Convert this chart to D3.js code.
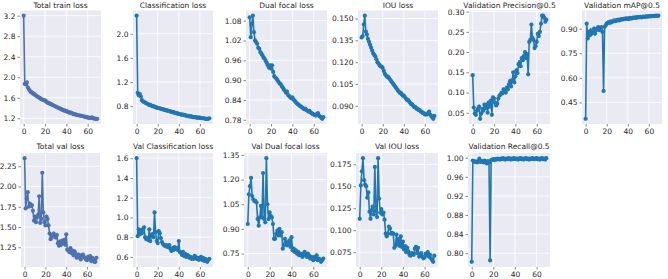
<!DOCTYPE html>
<html lang="en">
<head>
<meta charset="utf-8">
<title>Training curves</title>
<script src="https://d3js.org/d3.v7.min.js"></script>
<style>
  body { margin: 0; background: #fff; }
  .title { font-family: "DejaVu Sans", sans-serif; font-size: 7.5px; fill: #262626; }
  .tick text { font-family: "DejaVu Sans", sans-serif; font-size: 7.5px; fill: #262626; }
</style>
</head>
<body>
<div id="vis"></div>
<script>
const width = 668, height = 279;

const epochs = d3.range(70);

const trainTotal = [3.20,1.87,1.86,1.90,1.80,1.76,1.73,1.71,1.70,1.68,1.67,1.65,1.64,1.62,1.61,1.60,1.58,1.57,1.56,1.55,1.55,1.53,1.51,1.50,1.49,1.48,1.47,1.46,1.45,1.44,1.43,1.42,1.41,1.40,1.39,1.38,1.37,1.36,1.35,1.35,1.34,1.33,1.32,1.31,1.31,1.30,1.29,1.28,1.28,1.27,1.27,1.26,1.26,1.25,1.25,1.24,1.24,1.23,1.23,1.22,1.22,1.21,1.21,1.21,1.22,1.20,1.20,1.19,1.19,1.19];
const trainCls = [2.30,1.02,0.98,1.00,0.96,0.90,0.88,0.87,0.86,0.85,0.84,0.83,0.82,0.82,0.81,0.80,0.80,0.79,0.78,0.78,0.77,0.77,0.76,0.76,0.75,0.75,0.74,0.74,0.73,0.73,0.72,0.72,0.71,0.71,0.70,0.70,0.69,0.69,0.68,0.68,0.67,0.67,0.66,0.66,0.66,0.65,0.65,0.64,0.64,0.64,0.63,0.63,0.63,0.62,0.62,0.62,0.62,0.61,0.61,0.61,0.61,0.60,0.60,0.60,0.60,0.59,0.59,0.59,0.59,0.60];
const trainDfl = [1.090,1.030,1.070,1.095,1.045,1.020,1.015,1.010,0.998,0.995,0.985,0.980,0.975,0.968,0.965,0.958,0.952,0.945,0.938,0.945,0.935,0.945,0.925,0.912,0.908,0.905,0.900,0.895,0.890,0.888,0.882,0.878,0.872,0.868,0.862,0.865,0.855,0.852,0.848,0.845,0.848,0.842,0.838,0.835,0.830,0.828,0.825,0.822,0.820,0.818,0.815,0.812,0.814,0.810,0.808,0.805,0.807,0.803,0.800,0.798,0.796,0.795,0.793,0.797,0.800,0.792,0.790,0.786,0.783,0.788];
const trainIou = [0.137,0.138,0.146,0.152,0.141,0.139,0.136,0.134,0.132,0.130,0.128,0.126,0.125,0.124,0.122,0.120,0.119,0.118,0.117,0.117,0.116,0.114,0.112,0.111,0.110,0.110,0.109,0.108,0.107,0.106,0.105,0.104,0.103,0.102,0.101,0.100,0.099,0.099,0.098,0.097,0.097,0.096,0.095,0.094,0.094,0.093,0.092,0.091,0.091,0.090,0.089,0.089,0.088,0.088,0.087,0.087,0.086,0.086,0.085,0.085,0.084,0.084,0.084,0.085,0.086,0.084,0.083,0.082,0.081,0.083];
const valPrecision = [0.143,0.063,0.048,0.045,0.055,0.060,0.065,0.035,0.048,0.060,0.055,0.070,0.062,0.070,0.050,0.075,0.065,0.080,0.045,0.088,0.085,0.075,0.068,0.072,0.085,0.092,0.095,0.100,0.098,0.108,0.105,0.100,0.112,0.108,0.120,0.128,0.115,0.130,0.150,0.125,0.140,0.155,0.148,0.170,0.175,0.165,0.185,0.180,0.190,0.200,0.185,0.195,0.145,0.225,0.230,0.268,0.235,0.230,0.210,0.215,0.225,0.245,0.240,0.250,0.270,0.290,0.290,0.285,0.275,0.280];
const valMap = [0.350,0.930,0.840,0.880,0.860,0.890,0.870,0.880,0.900,0.870,0.890,0.900,0.910,0.890,0.900,0.910,0.880,0.520,0.910,0.920,0.930,0.935,0.940,0.935,0.945,0.940,0.945,0.950,0.945,0.950,0.950,0.955,0.950,0.955,0.958,0.955,0.960,0.958,0.962,0.960,0.962,0.958,0.965,0.963,0.962,0.967,0.965,0.968,0.966,0.970,0.968,0.970,0.972,0.968,0.972,0.973,0.971,0.974,0.975,0.973,0.975,0.976,0.974,0.977,0.978,0.976,0.978,0.979,0.977,0.979];
const valTotal = [2.35,1.73,1.85,1.93,1.75,1.79,1.76,1.77,1.70,1.58,1.63,1.56,1.62,1.65,1.88,1.55,1.60,2.17,1.68,1.56,1.52,1.63,1.60,1.52,1.42,1.35,1.40,1.38,1.42,1.38,1.37,1.40,1.30,1.27,1.32,1.28,1.33,1.30,1.34,1.28,1.41,1.22,1.21,1.19,1.24,1.18,1.21,1.15,1.20,1.17,1.12,1.14,1.16,1.12,1.10,1.15,1.16,1.13,1.12,1.10,1.09,1.13,1.11,1.14,1.08,1.12,1.10,1.07,1.07,1.12];
const valCls = [1.60,0.81,0.88,0.83,0.87,0.84,0.88,0.90,0.80,0.78,0.79,0.77,0.88,0.76,0.82,0.83,0.80,1.05,0.85,0.76,0.74,0.86,0.84,0.79,0.75,0.73,0.72,0.71,0.72,0.70,0.70,0.72,0.68,0.66,0.69,0.67,0.70,0.68,0.69,0.67,0.76,0.65,0.64,0.62,0.65,0.61,0.63,0.60,0.62,0.61,0.59,0.60,0.58,0.59,0.58,0.61,0.60,0.58,0.59,0.57,0.58,0.60,0.57,0.59,0.56,0.58,0.56,0.55,0.57,0.58];
const valDfl = [0.93,1.11,1.16,1.21,1.10,1.08,1.07,1.07,1.06,0.96,0.92,0.97,1.04,0.97,1.24,0.96,0.94,1.33,1.05,0.96,1.00,0.98,0.97,0.93,0.84,0.84,0.87,0.89,0.86,0.90,0.86,0.88,0.78,0.80,0.84,0.82,0.80,0.81,0.83,0.79,0.85,0.77,0.78,0.76,0.77,0.75,0.76,0.74,0.75,0.74,0.73,0.75,0.76,0.74,0.73,0.75,0.74,0.72,0.73,0.72,0.71,0.73,0.72,0.74,0.71,0.72,0.71,0.70,0.71,0.72];
const valIou = [0.113,0.151,0.167,0.182,0.157,0.152,0.150,0.137,0.143,0.121,0.113,0.123,0.127,0.118,0.172,0.122,0.115,0.182,0.136,0.120,0.124,0.118,0.120,0.112,0.096,0.093,0.096,0.104,0.102,0.096,0.097,0.096,0.080,0.082,0.095,0.084,0.090,0.082,0.093,0.081,0.087,0.078,0.082,0.075,0.080,0.076,0.072,0.071,0.074,0.073,0.072,0.079,0.081,0.074,0.080,0.070,0.072,0.074,0.070,0.068,0.069,0.073,0.072,0.075,0.070,0.072,0.068,0.066,0.064,0.071];
const valRecall = [0.782,0.994,0.993,0.991,0.992,0.990,0.993,0.998,0.991,0.993,0.992,0.990,0.994,0.991,0.988,0.993,0.990,0.785,0.995,0.996,0.997,0.995,0.997,0.996,0.998,0.997,0.996,0.998,0.997,0.999,0.997,0.996,0.998,0.997,0.999,0.998,0.996,0.998,0.997,0.999,0.998,0.997,0.998,0.996,0.998,0.999,0.997,0.998,0.996,0.998,0.999,0.997,0.998,0.996,0.998,0.997,0.999,0.998,0.997,0.998,0.999,0.997,0.998,0.996,0.998,0.999,0.997,0.998,0.996,0.999];

const titles = ["Total train loss", "Classification loss", "Dual focal loss", "IOU loss",
                "Validation Precision@0.5", "Validation mAP@0.5",
                "Total val loss", "Val Classification loss", "Val Dual focal loss", "Val IOU loss",
                "Validation Recall@0.5"];
const series = [trainTotal, trainCls, trainDfl, trainIou, valPrecision, valMap,
                valTotal, valCls, valDfl, valIou, valRecall];
const xTicks = [0, 20, 40, 60];
const yTicks = [
  [1.2, 1.6, 2.0, 2.4, 2.8, 3.2],
  [0.8, 1.2, 1.6, 2.0],
  [0.78, 0.84, 0.90, 0.96, 1.02, 1.08],
  [0.090, 0.105, 0.120, 0.135, 0.150],
  [0.05, 0.10, 0.15, 0.20, 0.25, 0.30],
  [0.45, 0.60, 0.75, 0.90],
  [1.25, 1.50, 1.75, 2.00, 2.25],
  [0.6, 0.8, 1.0, 1.2, 1.4, 1.6],
  [0.75, 0.90, 1.05, 1.20, 1.35],
  [0.075, 0.100, 0.125, 0.150, 0.175],
  [0.80, 0.84, 0.88, 0.92, 0.96, 1.00]
];
const yFormats = [".1f", ".1f", ".2f", ".3f", ".2f", ".2f", ".2f", ".1f", ".2f", ".3f", ".2f"];

// layout of each panel: [left, right, top, bottom]
const boxes = [
  [20, 101, 10.5, 124], [133, 213, 10.5, 124], [246, 327, 10.5, 124],
  [358, 438, 10.5, 124], [469, 550, 10.5, 124], [582, 662, 10.5, 124],
  [21, 100, 153, 267], [133, 213, 153, 267], [244, 327, 153, 267],
  [356, 438, 153, 267], [468, 550, 153, 267]
];
const colors = ["#4c72b0", "#1f77b4", "#1f77b4", "#1f77b4", "#1f77b4", "#1f77b4",
                "#4c72b0", "#1f77b4", "#1f77b4", "#1f77b4", "#1f77b4"];

const svg = d3.select("#vis").append("svg")
  .attr("width", width).attr("height", height);

series.forEach((vals, i) => {
  const [x0, x1, y0, y1] = boxes[i];
  const data = epochs.map((e, j) => ({ e: e, v: vals[j] }));

  const xMin = d3.min(epochs), xMax = d3.max(epochs);
  const xPad = (xMax - xMin) * 0.05;
  const xScale = d3.scaleLinear().domain([xMin - xPad, xMax + xPad]).range([x0, x1]);

  const [vMin, vMax] = d3.extent(vals);
  const yPad = (vMax - vMin) * 0.05;
  const yScale = d3.scaleLinear().domain([vMin - yPad, vMax + yPad]).range([y1, y0]);

  const g = svg.append("g");

  g.append("rect")
    .attr("x", x0).attr("y", y0)
    .attr("width", x1 - x0).attr("height", y1 - y0)
    .attr("fill", "#eaeaf2");

  // grid
  g.selectAll(".vgrid").data(xTicks).enter().append("line")
    .attr("x1", d => xScale(d)).attr("x2", d => xScale(d))
    .attr("y1", y0).attr("y2", y1)
    .attr("stroke", "#fff").attr("stroke-width", 0.8);
  g.selectAll(".hgrid").data(yTicks[i]).enter().append("line")
    .attr("x1", x0).attr("x2", x1)
    .attr("y1", d => yScale(d)).attr("y2", d => yScale(d))
    .attr("stroke", "#fff").attr("stroke-width", 0.8);

  // axes
  const bottomAxis = d3.axisBottom(xScale).tickValues(xTicks).tickSize(2.5).tickPadding(2.5);
  const leftAxis = d3.axisLeft(yScale).tickValues(yTicks[i])
    .tickFormat(d3.format(yFormats[i])).tickSize(2.5).tickPadding(2);

  const bx = g.append("g").attr("transform", "translate(0," + y1 + ")").call(bottomAxis);
  const lx = g.append("g").attr("transform", "translate(" + x0 + ",0)").call(leftAxis);
  [bx, lx].forEach(a => {
    a.select(".domain").remove();
    a.selectAll(".tick line").attr("stroke", "#555").attr("stroke-width", 0.7);
  });

  // line + markers
  const line = d3.line().x(d => xScale(d.e)).y(d => yScale(d.v));
  g.append("path").datum(data)
    .attr("d", line)
    .attr("fill", "none")
    .attr("stroke", colors[i])
    .attr("stroke-width", 1.6);
  g.selectAll(".pt").data(data).enter().append("circle")
    .attr("cx", d => xScale(d.e)).attr("cy", d => yScale(d.v))
    .attr("r", 2.1)
    .attr("fill", colors[i]);

  g.append("text")
    .attr("class", "title")
    .attr("x", (x0 + x1) / 2).attr("y", i < 6 ? y0 - 3 : y0 - 4.5)
    .attr("text-anchor", "middle")
    .text(titles[i]);
});
</script>
</body>
</html>
